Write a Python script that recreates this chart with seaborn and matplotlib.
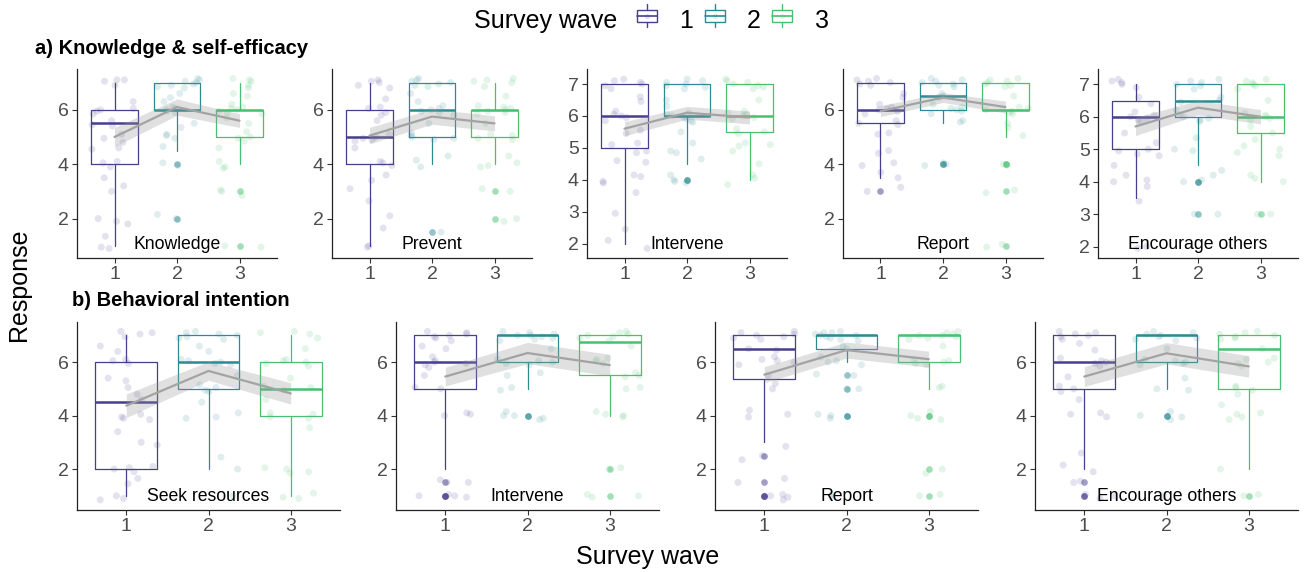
import numpy as np
import pandas as pd
import seaborn as sns
import matplotlib.pyplot as plt
from matplotlib.patches import Patch, Rectangle
from matplotlib.lines import Line2D
from matplotlib.legend_handler import HandlerBase

# ---- data ----
waves = ["1", "2", "3"]
wave_colors = ["#453F8E", "#2B8A92", "#48C06F"]

items = ["Knowledge", "Prevent", "Intervene", "Report", "Encourage others",
         "Seek resources", "Intervene", "Report", "Encourage others"]

# box stats per panel, one value per wave
box_q1 = [[4, 6, 5], [4, 5, 5], [5, 6, 5.5], [5.5, 6, 6], [5, 6, 5.5],
          [2, 5, 4], [5, 6, 5.5], [5.375, 6.5, 6], [5, 6, 5]]
box_med = [[5.5, 6, 6], [5, 6, 6], [6, 6, 6], [6, 6.5, 6], [6, 6.5, 6],
           [4.5, 6, 5], [6, 7, 6.75], [6.5, 7, 7], [6, 7, 6.5]]
box_q3 = [[6, 7, 6], [6, 7, 6], [7, 7, 7], [7, 7, 7], [6.5, 7, 7],
          [6, 7, 6], [7, 7, 7], [7, 7, 7], [7, 7, 7]]
whisk_lo = [[1, 4.5, 4], [1, 4, 4], [2, 4.5, 4], [3.5, 5.5, 5], [3.5, 4.5, 4],
            [1, 2, 1], [2, 5, 4], [3, 6, 5], [2, 5, 2]]
whisk_hi = [[7, 7, 7]] * 9
outliers = [[[], [4, 2], [3, 1]],
            [[], [1.5], [3, 2]],
            [[], [4, 4], []],
            [[3], [4, 4], [4, 4, 3, 1]],
            [[], [4, 4, 3], [3]],
            [[], [], []],
            [[1.5, 1, 1, 1], [4, 4], [2, 1]],
            [[2.5, 1.5, 1, 1, 1], [5.5, 5, 4, 4], [4, 4, 2, 1]],
            [[1.5, 1, 1], [4, 4], [1]]]

# mean response per wave and half width of its confidence band
mean_resp = [[5.0, 6.1, 5.6], [5.05, 5.75, 5.5], [5.6, 6.1, 5.95],
             [5.95, 6.45, 6.1], [5.7, 6.28, 6.0],
             [4.37, 5.67, 4.83], [5.46, 6.34, 5.89], [5.53, 6.45, 6.11],
             [5.46, 6.33, 5.84]]
ci_half = [[0.35, 0.3, 0.25], [0.3, 0.28, 0.28], [0.22, 0.2, 0.2],
           [0.2, 0.18, 0.22], [0.28, 0.22, 0.22],
           [0.44, 0.35, 0.4], [0.35, 0.4, 0.4], [0.3, 0.3, 0.3],
           [0.37, 0.4, 0.4]]

# individual responses (as plotted, with their vertical jitter)
pts_knowledge = [
    [7.1, 7.1, 7.05, 6.9, 6.3, 6.05, 5.95, 6.0, 5.85, 5.6, 5.45, 5.4, 5.1, 4.95, 4.8,
     4.6, 4.55, 4.1, 4.05, 3.9, 3.5, 3.2, 3.0, 2.0, 1.9, 1.8, 1.35, 0.95, 0.9],
    [7.15, 7.1, 7.05, 7.0, 6.95, 6.9, 6.85, 6.8, 6.6, 6.45, 6.3, 6.1, 6.05, 6.0, 5.95,
     5.9, 5.5, 5.35, 5.1, 5.05, 4.95, 4.65, 4.05, 3.95, 2.15, 2.0],
    [7.15, 7.1, 7.05, 6.9, 6.8, 6.6, 6.5, 6.2, 6.1, 6.05, 6.0, 5.95, 5.9, 5.85, 5.7,
     5.5, 5.2, 5.0, 4.95, 4.85, 4.6, 4.1, 3.9, 3.85, 3.05, 3.0, 2.85, 1.0, 0.95]]
pts_prevent = [
    [7.1, 7.05, 7.0, 6.9, 6.8, 6.4, 6.1, 6.05, 5.9, 5.8, 5.6, 5.1, 5.0, 4.95, 4.9,
     4.85, 4.6, 4.1, 4.05, 3.95, 3.6, 3.4, 3.1, 2.65, 2.1, 1.65, 1.0, 0.95],
    [7.15, 7.1, 7.05, 7.0, 6.95, 6.9, 6.85, 6.6, 6.3, 6.15, 6.05, 6.0, 5.95, 5.9, 5.8,
     5.5, 5.15, 5.05, 5.0, 4.95, 4.9, 4.3, 4.15, 3.9, 1.5],
    [7.15, 7.1, 7.05, 7.0, 6.85, 6.5, 6.15, 6.1, 6.05, 6.0, 5.95, 5.9, 5.85, 5.5, 5.1,
     5.05, 4.95, 4.9, 4.3, 4.05, 3.95, 3.9, 3.1, 3.0, 2.0, 1.9]]
pts_intervene_a = [
    [7.15, 7.1, 7.05, 7.0, 6.95, 6.85, 6.6, 6.45, 6.15, 6.05, 6.0, 5.95, 5.85, 5.55,
     5.45, 5.15, 5.1, 4.9, 4.85, 4.6, 4.55, 4.15, 4.1, 3.95, 3.9, 3.6, 2.95, 2.45, 2.1, 1.85],
    [7.15, 7.1, 7.05, 7.0, 6.95, 6.9, 6.85, 6.5, 6.3, 6.1, 6.05, 6.0, 5.95, 5.9, 5.85,
     5.8, 5.5, 5.15, 4.9, 4.85, 4.65, 4.15, 4.0, 3.95, 3.9],
    [7.15, 7.1, 7.05, 7.0, 6.95, 6.9, 6.85, 6.5, 6.15, 6.1, 6.05, 6.0, 5.95, 5.9, 5.6,
     5.5, 5.45, 5.15, 5.1, 5.05, 4.9, 4.5, 4.15, 4.05, 3.85]]
pts_report_a = [
    [7.15, 7.1, 7.05, 7.0, 6.95, 6.9, 6.6, 6.45, 6.2, 6.1, 6.05, 6.0, 5.95, 5.85, 5.6,
     5.5, 5.45, 5.15, 5.1, 4.5, 4.4, 4.05, 3.95, 3.7, 3.5, 3.15, 3.0],
    [7.15, 7.1, 7.05, 7.0, 6.95, 6.9, 6.85, 6.6, 6.5, 6.45, 6.2, 6.1, 6.05, 6.0, 5.95,
     5.85, 5.6, 5.55, 4.05, 4.0, 3.95],
    [7.15, 7.1, 7.05, 7.0, 6.95, 6.9, 6.85, 6.5, 6.1, 6.05, 6.0, 5.95, 5.9, 5.85, 5.5,
     5.35, 5.05, 4.0, 3.95, 3.05, 2.95, 1.05, 0.95]]
pts_encourage_a = [
    [7.15, 7.1, 7.05, 7.0, 6.9, 6.6, 6.4, 6.15, 6.05, 6.0, 5.95, 5.9, 5.85, 5.5, 5.2,
     5.0, 4.95, 4.85, 4.8, 4.5, 4.2, 4.05, 4.0, 3.85, 3.4, 2.0, 1.95],
    [7.15, 7.1, 7.05, 7.0, 6.95, 6.85, 6.6, 6.5, 6.45, 6.2, 6.05, 6.0, 5.95, 5.9, 5.85,
     5.35, 5.0, 4.95, 4.35, 4.2, 4.05, 4.0, 3.0, 3.0],
    [7.15, 7.1, 7.05, 7.0, 6.95, 6.85, 6.5, 6.1, 6.05, 6.0, 5.95, 5.9, 5.7, 5.5, 5.3,
     5.1, 5.0, 4.9, 4.8, 4.2, 4.1, 4.0, 3.0, 3.0]]
pts_seek = [
    [7.15, 7.1, 7.05, 6.95, 6.6, 6.4, 6.1, 6.05, 5.95, 5.4, 5.3, 5.05, 4.8, 4.6, 4.05,
     3.95, 3.9, 3.85, 3.4, 3.0, 2.9, 2.1, 2.05, 2.0, 1.9, 1.65, 1.45, 1.0, 0.9, 0.85],
    [7.15, 7.1, 7.05, 7.0, 6.95, 6.9, 6.85, 6.6, 6.4, 6.1, 6.05, 6.0, 5.95, 5.9, 5.5,
     5.15, 5.05, 4.95, 4.9, 4.5, 4.1, 3.95, 3.9, 2.45, 2.0, 1.0],
    [7.15, 7.1, 7.05, 6.9, 6.5, 6.1, 6.05, 6.0, 5.95, 5.85, 5.4, 5.1, 5.05, 4.95, 4.6,
     4.1, 4.05, 3.95, 3.9, 3.55, 2.05, 2.0, 1.9, 1.85, 1.1, 0.95, 0.9]]
pts_intervene_b = [
    [7.15, 7.1, 7.05, 7.0, 6.95, 6.9, 6.8, 6.6, 6.5, 6.2, 6.05, 6.0, 5.95, 5.9, 5.8,
     5.5, 5.05, 5.0, 4.1, 4.05, 4.0, 1.6, 1.5, 1.5, 1.05, 1.0, 1.0, 0.95],
    [7.15, 7.1, 7.05, 7.0, 7.0, 6.95, 6.9, 6.85, 6.8, 6.5, 6.1, 6.05, 6.0, 5.95, 5.9,
     5.6, 5.5, 5.05, 4.95, 4.15, 4.0, 4.0, 3.9, 3.85],
    [7.15, 7.1, 7.05, 7.0, 6.95, 6.9, 6.8, 6.6, 6.15, 6.1, 6.05, 5.95, 5.6, 5.5, 5.45,
     5.05, 5.0, 4.15, 4.05, 4.0, 3.95, 2.05, 2.0, 1.05, 1.0, 0.95]]
pts_report_b = [
    [7.15, 7.1, 7.05, 7.0, 6.95, 6.9, 6.85, 6.5, 6.45, 6.2, 6.1, 6.05, 6.0, 5.9, 5.5,
     5.2, 5.0, 4.2, 4.05, 3.95, 2.85, 2.5, 2.35, 1.65, 1.5, 1.05, 1.0, 0.95, 0.85],
    [7.15, 7.1, 7.1, 7.05, 7.0, 7.0, 6.95, 6.9, 6.85, 6.8, 6.6, 6.5, 6.2, 6.05, 6.0,
     5.9, 5.55, 5.5, 5.0, 5.0, 4.05, 4.0, 3.9, 1.05, 0.95],
    [7.15, 7.1, 7.05, 7.0, 7.0, 6.95, 6.9, 6.85, 6.6, 6.1, 6.05, 6.0, 5.95, 5.9, 5.1,
     5.05, 4.15, 4.0, 3.9, 3.85, 1.85, 2.0, 1.05, 1.0]]
pts_encourage_b = [
    [7.15, 7.1, 7.05, 7.0, 6.95, 6.85, 6.7, 6.45, 6.15, 6.05, 6.0, 5.95, 5.85, 5.45,
     5.1, 5.0, 4.9, 4.6, 4.1, 4.05, 3.95, 2.6, 2.15, 1.9, 1.55, 1.5, 1.05, 1.0, 0.9],
    [7.15, 7.1, 7.05, 7.0, 6.95, 6.9, 6.85, 6.8, 6.5, 6.1, 6.05, 6.0, 5.95, 5.9, 5.4,
     5.0, 4.95, 4.15, 4.0, 3.95, 3.85, 1.0],
    [7.15, 7.1, 7.05, 7.0, 6.95, 6.9, 6.85, 6.5, 6.15, 6.1, 6.0, 5.95, 5.85, 5.1, 5.05,
     4.95, 4.8, 4.4, 4.1, 4.05, 3.95, 3.85, 2.0, 1.05, 1.0]]

panel_points = [pts_knowledge, pts_prevent, pts_intervene_a, pts_report_a,
                pts_encourage_a, pts_seek, pts_intervene_b, pts_report_b,
                pts_encourage_b]

# y axis setup per panel
y_ticks = [[2, 4, 6], [2, 4, 6], [2, 3, 4, 5, 6, 7], [2, 4, 6], [2, 3, 4, 5, 6, 7],
           [2, 4, 6], [2, 4, 6], [2, 4, 6], [2, 4, 6]]
y_lims = [(0.55, 7.5), (0.55, 7.5), (1.55, 7.47), (0.55, 7.5), (1.65, 7.47),
          (0.47, 7.5), (0.47, 7.5), (0.47, 7.5), (0.47, 7.5)]

# ---- plot ----
sns.set_theme(style="ticks")
plt.rcParams['font.family'] = ['Liberation Sans', 'DejaVu Sans']
plt.rcParams['text.color'] = 'black'
np.random.seed(3)

W, H = 1306, 572
fig = plt.figure(figsize=(W / 100, H / 100), dpi=100)

# axes boxes in pixels: left, top, width, height
top_left = [77, 332, 587, 843, 1098]
bot_left = [77, 396, 715, 1035]
rects = [(x, 69, 200, 189) for x in top_left] + [(x, 322, 263, 188) for x in bot_left]

for i, (x, y, w, h) in enumerate(rects):
    ax = fig.add_axes([x / W, 1 - (y + h) / H, w / W, h / H])

    df = pd.DataFrame({
        "wave": np.repeat(waves, [len(v) for v in panel_points[i]]),
        "response": np.concatenate(panel_points[i]),
    })
    sns.stripplot(data=df, x="wave", y="response", hue="wave", order=waves,
                  palette=wave_colors, jitter=0.38, size=5, alpha=0.15,
                  linewidth=0, legend=False, ax=ax, zorder=1)

    for j, c in enumerate(wave_colors):
        st = [dict(med=box_med[i][j], q1=box_q1[i][j], q3=box_q3[i][j],
                   whislo=whisk_lo[i][j], whishi=whisk_hi[i][j],
                   fliers=outliers[i][j])]
        ax.bxp(st, positions=[j], widths=0.75, showcaps=False,
               boxprops=dict(color=c, linewidth=0.9),
               whiskerprops=dict(color=c, linewidth=0.9),
               medianprops=dict(color=c, linewidth=1.8),
               flierprops=dict(marker="o", markerfacecolor=c, markeredgecolor="none",
                               markersize=4.8, alpha=0.5),
               zorder=2)

    xs = np.arange(3)
    m = np.array(mean_resp[i])
    e = np.array(ci_half[i])
    ax.fill_between(xs, m - e, m + e, color="#999999", alpha=0.3, linewidth=0, zorder=3)
    ax.plot(xs, m, color="#A3A3A3", linewidth=1.6, zorder=4)

    ax.set_xlim(-0.6, 2.6)
    ax.set_ylim(*y_lims[i])
    ax.set_xticks(xs)
    ax.set_xticklabels(waves)
    ax.set_yticks(y_ticks[i])
    ax.set_xlabel("")
    ax.set_ylabel("")
    ax.tick_params(labelsize=14, labelcolor="#4D4D4D", color="#333333",
                   length=3.5, width=0.8, pad=2.5)
    for s in ["left", "bottom"]:
        ax.spines[s].set_linewidth(0.9)
        ax.spines[s].set_color("#222222")
    sns.despine(ax=ax)
    ax.text(0.5, 0.07, items[i], transform=ax.transAxes, ha="center", va="center",
            fontsize=12.7, color="black", zorder=5)

fig.text(35 / W, 1 - 49 / H, "a) Knowledge & self-efficacy", fontsize=14.5,
         fontweight="bold", va="center", ha="left", color="black")
fig.text(72 / W, 1 - 301 / H, "b) Behavioral intention", fontsize=14.5,
         fontweight="bold", va="center", ha="left", color="black")
fig.text(19 / W, 1 - 285 / H, "Response", rotation=90, fontsize=18,
         va="center", ha="center", color="black")
fig.text(648 / W, 1 - 557 / H, "Survey wave", fontsize=18, va="center",
         ha="center", color="black")


class BoxKey(HandlerBase):
    def create_artists(self, legend, orig, x0, y0, width, height, fontsize, trans):
        c = orig.get_edgecolor()
        xm = x0 + width / 2
        r = Rectangle((x0, y0 + height * 0.22), width, height * 0.56, facecolor="white",
                      edgecolor=c, linewidth=1.0, transform=trans)
        med = Line2D([x0, x0 + width], [y0 + height * 0.5] * 2, color=c,
                     linewidth=1.2, transform=trans)
        wl = Line2D([xm, xm], [y0 - height * 0.05, y0 + height * 0.22],
                    color=c, linewidth=1.0, transform=trans)
        wh = Line2D([xm, xm], [y0 + height * 0.78, y0 + height * 1.05],
                    color=c, linewidth=1.0, transform=trans)
        dot = Line2D([xm], [y0 + height * 0.5], marker="o", markersize=4,
                     markerfacecolor=c, markeredgecolor="none", alpha=0.15,
                     transform=trans)
        return [r, med, wl, wh, dot]


handles = [Patch(facecolor="white", edgecolor=c) for c in wave_colors]
fig.text(617 / W, 1 - 21 / H, "Survey wave", fontsize=18, va="center", ha="right",
         color="black")
leg = fig.legend(handles, waves, loc="center left", bbox_to_anchor=(637 / W, 1 - 21 / H),
                 ncol=3, frameon=False, fontsize=18, handlelength=0.8, handleheight=0.9,
                 columnspacing=0.45, handletextpad=0.9, borderpad=0, borderaxespad=0,
                 handler_map={Patch: BoxKey()})
for t in leg.get_texts():
    t.set_color("black")

fig.savefig("out.png", dpi=100, facecolor="white")
